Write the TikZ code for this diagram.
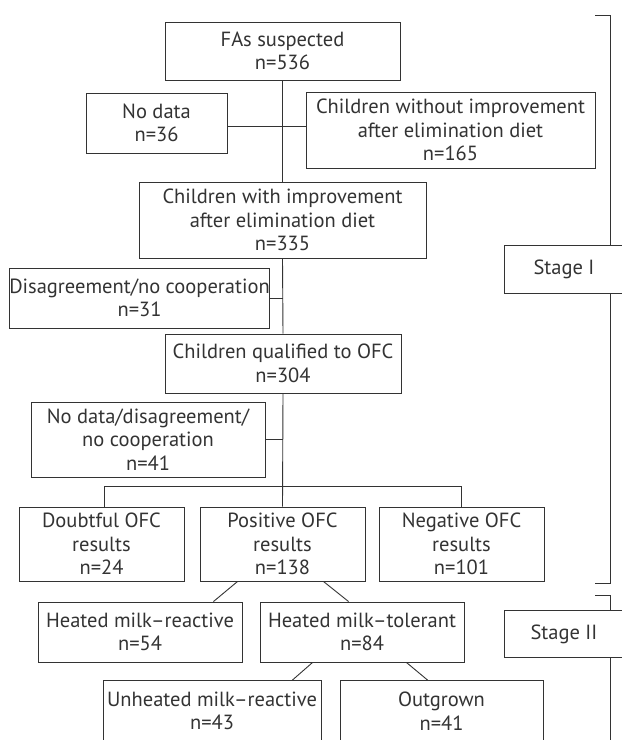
\documentclass[tikz,border=0pt]{standalone}
\usepackage{fontspec}
\setmainfont{PT Sans}
\usetikzlibrary{calc}
\definecolor{ink}{HTML}{333333}
\begin{document}
\begin{tikzpicture}[x=1pt,y=-1pt,
  box/.style={draw=ink, line width=0.9pt, text=ink, align=center, inner sep=0pt,
    font=\fontsize{20.5}{23.5}\selectfont, fill=white},
  conn/.style={draw=ink, line width=0.9pt}]
\clip (0,0) rectangle (622,740);
\fill[white] (0,0) rectangle (622,740);
% nodes
\node[box, minimum width=235pt, minimum height=58pt] (fas) at (282.5,51) {FAs suspected\\n=536};
\node[box, minimum width=141pt, minimum height=60pt] (nodata) at (156.5,123) {No data\\n=36};
\node[box, minimum width=289pt, minimum height=76pt] (without) at (450.5,130) {Children without improvement\\after elimination diet\\n=165};
\node[box, minimum width=287pt, minimum height=76pt] (withimp) at (282.5,220) {Children with improvement\\after elimination diet\\n=335};
\node[box, minimum width=253pt, minimum height=60pt] (disag) at (139.5,298) {Disagreement/no cooperation\\n=31};
\node[box, minimum width=236pt, minimum height=59pt] (qual) at (283,363.5) {Children qualified to OFC\\n=304};
\node[box, minimum width=234pt, minimum height=75pt] (nodata2) at (148,439.5) {No data/disagreement/\\no cooperation\\n=41};
\node[box, minimum width=165pt, minimum height=74pt] (doubt) at (101.5,544) {Doubtful OFC\\results\\n=24};
\node[box, minimum width=165pt, minimum height=74pt] (pos) at (282.5,544) {Positive OFC\\results\\n=138};
\node[box, minimum width=165pt, minimum height=74pt] (neg) at (461.5,544) {Negative OFC\\results\\n=101};
\node[box, minimum width=204pt, minimum height=60pt] (hreact) at (140,632) {Heated milk--reactive\\n=54};
\node[box, minimum width=204pt, minimum height=60pt] (htol) at (362,632) {Heated milk--tolerant\\n=84};
\node[box, minimum width=218pt, minimum height=61pt] (unheat) at (212,711) {Unheated milk--reactive\\n=43};
\node[box, minimum width=203pt, minimum height=61pt] (outg) at (441.5,711) {Outgrown\\n=41};
\node[box, minimum width=120pt, minimum height=47.6pt] (stage1) at (564,269.5) {Stage I};
\node[box, minimum width=120pt, minimum height=47.6pt] (stage2) at (564,634) {Stage II};
% connectors
\draw[conn] (fas.south) -- (withimp.north);
\draw[conn] ([yshift=-3pt]nodata.east) -- ([yshift=-3pt]nodata.east -| without.west);
\draw[conn] (withimp.south) -- (qual.north);
\draw[conn] (disag.east) -- (disag.east -| qual.north);
\draw[conn] (qual.south) -- (pos.north);
\draw[conn] (nodata2.east) -- (nodata2.east -| qual.south);
\draw[conn] ([xshift=2.5pt]doubt.north) -- ++(0,-20) -| (neg.north);
\draw[conn] ([xshift=38pt]pos.south west) -- ([xshift=-29pt]hreact.north east);
\draw[conn] ([xshift=-42pt]pos.south east) -- ([xshift=89pt]htol.north west);
\draw[conn] ([xshift=53pt]htol.south west) -- ([xshift=-29pt]unheat.north east);
\draw[conn] ([xshift=-58pt]htol.south east) -- ([xshift=88pt]outg.north west);
% brackets
\coordinate (v) at (610,0);
\coordinate (t1) at (595,15);
\coordinate (b1) at (595,583.5);
\coordinate (t2) at (595,595.5);
\coordinate (b2) at (610,745);
\draw[conn] (t1) -| (stage1.north -| v);
\draw[conn] (stage1.south -| v) |- (b1);
\draw[conn] (t2) -| (stage2.north -| v);
\draw[conn] (stage2.south -| v) -- (b2);
\end{tikzpicture}
\end{document}
